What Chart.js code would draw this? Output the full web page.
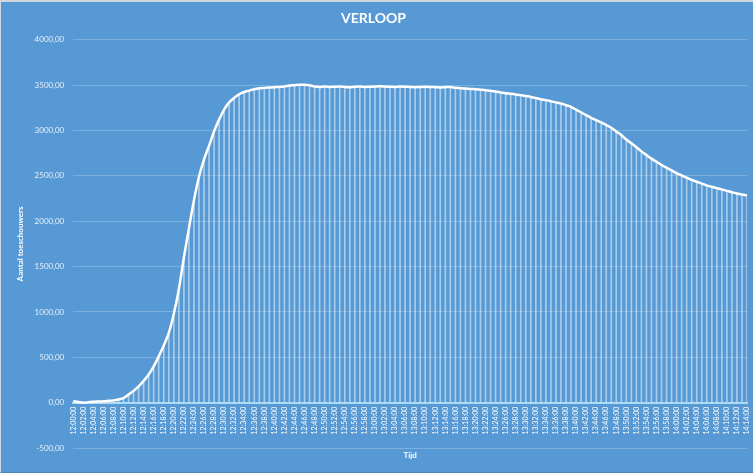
<!DOCTYPE html>
<html>
<head>
<meta charset="utf-8">
<title>Verloop</title>
<script src="https://cdn.jsdelivr.net/npm/chart.js@4.4.0/dist/chart.umd.min.js"></script>
<style>
  html, body { margin: 0; padding: 0; background: #5799d4; }
  #wrap { position: relative; width: 753px; height: 473px; }
  #frame {
    position: absolute; left: 0; top: 0; right: 0; bottom: 0;
    border-top: 2px solid #cfd8e0; border-left: 1px solid #cfd8e0;
    border-bottom: 1px solid #4a86bd;
    pointer-events: none;
  }
</style>
</head>
<body>
<div id="wrap">
  <canvas id="verloop" width="753" height="473"></canvas>
  <div id="frame"></div>
</div>
<script>
// one sample per minute, 12:00 - 14:14
const tijden = [
  '12:00:00','12:01:00','12:02:00','12:03:00','12:04:00','12:05:00','12:06:00','12:07:00','12:08:00','12:09:00',
  '12:10:00','12:11:00','12:12:00','12:13:00','12:14:00','12:15:00','12:16:00','12:17:00','12:18:00','12:19:00',
  '12:20:00','12:21:00','12:22:00','12:23:00','12:24:00','12:25:00','12:26:00','12:27:00','12:28:00','12:29:00',
  '12:30:00','12:31:00','12:32:00','12:33:00','12:34:00','12:35:00','12:36:00','12:37:00','12:38:00','12:39:00',
  '12:40:00','12:41:00','12:42:00','12:43:00','12:44:00','12:45:00','12:46:00','12:47:00','12:48:00','12:49:00',
  '12:50:00','12:51:00','12:52:00','12:53:00','12:54:00','12:55:00','12:56:00','12:57:00','12:58:00','12:59:00',
  '13:00:00','13:01:00','13:02:00','13:03:00','13:04:00','13:05:00','13:06:00','13:07:00','13:08:00','13:09:00',
  '13:10:00','13:11:00','13:12:00','13:13:00','13:14:00','13:15:00','13:16:00','13:17:00','13:18:00','13:19:00',
  '13:20:00','13:21:00','13:22:00','13:23:00','13:24:00','13:25:00','13:26:00','13:27:00','13:28:00','13:29:00',
  '13:30:00','13:31:00','13:32:00','13:33:00','13:34:00','13:35:00','13:36:00','13:37:00','13:38:00','13:39:00',
  '13:40:00','13:41:00','13:42:00','13:43:00','13:44:00','13:45:00','13:46:00','13:47:00','13:48:00','13:49:00',
  '13:50:00','13:51:00','13:52:00','13:53:00','13:54:00','13:55:00','13:56:00','13:57:00','13:58:00','13:59:00',
  '14:00:00','14:01:00','14:02:00','14:03:00','14:04:00','14:05:00','14:06:00','14:07:00','14:08:00','14:09:00',
  '14:10:00','14:11:00','14:12:00','14:13:00','14:14:00'
];

const toeschouwers = [
  15, 8, 0, 5, 10, 12, 15, 20, 25, 35,
  50, 90, 130, 180, 240, 310, 400, 510, 630, 770,
  980, 1250, 1600, 1920, 2230, 2490, 2680, 2830, 2990, 3120,
  3230, 3310, 3360, 3400, 3425, 3440, 3455, 3465, 3470, 3475,
  3478, 3480, 3485, 3495, 3500, 3505, 3505, 3500, 3485, 3480,
  3485, 3480, 3482, 3485, 3480, 3478, 3482, 3485, 3480, 3482,
  3485, 3488, 3485, 3482, 3480, 3485, 3483, 3480, 3478, 3480,
  3482, 3480, 3478, 3475, 3478, 3480, 3472, 3465, 3462, 3458,
  3455, 3450, 3445, 3438, 3430, 3420, 3412, 3405, 3398, 3390,
  3380, 3370, 3358, 3345, 3335, 3322, 3310, 3298, 3280, 3260,
  3230, 3200, 3170, 3140, 3115, 3090, 3060, 3030, 2990, 2950,
  2900, 2860, 2815, 2770, 2730, 2690, 2655, 2620, 2590, 2560,
  2530, 2505, 2480, 2455, 2435, 2415, 2395, 2380, 2365, 2350,
  2335, 2320, 2305, 2295, 2285
];

const yMin = -500;
const yMax = 4000;
const yStap = 500;

const fontFam = 'Lato, "Open Sans", sans-serif';

new Chart(document.getElementById('verloop'), {
  data: {
    labels: tijden,
    datasets: [
      {
        // the curve itself
        type: 'line',
        data: toeschouwers,
        borderColor: '#ffffff',
        borderWidth: 2.5,
        pointRadius: 0,
        tension: 0.3,
        order: 0
      },
      {
        // thin drop lines down to the axis
        type: 'bar',
        data: toeschouwers,
        backgroundColor: 'rgba(235,248,255,0.55)',
        barThickness: 1,
        order: 1
      }
    ]
  },
  options: {
    responsive: false,
    animation: false,
    layout: { padding: { top: 0, right: 6, bottom: 25, left: 0 } },
    plugins: {
      legend: { display: false },
      tooltip: { enabled: false },
      title: {
        display: true,
        text: 'VERLOOP',
        color: '#ffffff',
        font: { family: fontFam, size: 14, weight: 'bold' },
        padding: { top: 10, bottom: 13 }
      }
    },
    scales: {
      x: {
        type: 'category',
        position: { y: 0 },
        offset: false,
        grid: { display: false, drawTicks: false },
        border: { display: true, color: '#a9dcf2', width: 2 },
        // the rotated time labels fit fine, don't let them push the plot inwards
        afterFit: function (scale) {
          scale.paddingLeft = 0;
          scale.paddingRight = 0;
        },
        ticks: {
          color: '#ffffff',
          font: { family: fontFam, size: 7 },
          autoSkip: false,
          minRotation: 90,
          maxRotation: 90,
          padding: 4,
          callback: function (value, index) {
            return index % 2 === 0 ? this.getLabelForValue(value) : '';
          }
        },
        title: {
          display: true,
          text: 'Tijd',
          color: '#ffffff',
          font: { family: fontFam, size: 8, weight: 'bold' },
          padding: { top: 12, bottom: 0 }
        }
      },
      y: {
        min: yMin,
        max: yMax,
        grid: { color: 'rgba(255,255,255,0.22)', lineWidth: 1, drawTicks: false },
        border: { display: false },
        ticks: {
          stepSize: yStap,
          color: 'rgba(255,255,255,0.85)',
          font: { family: fontFam, size: 8 },
          padding: 9,
          callback: function (v) { return v.toFixed(2).replace('.', ','); }
        },
        title: {
          display: true,
          text: 'Aantal toeschouwers',
          color: '#ffffff',
          font: { family: fontFam, size: 8, weight: 'bold' },
          padding: { top: 16, bottom: 0 }
        }
      }
    }
  }
});
</script>
</body>
</html>
